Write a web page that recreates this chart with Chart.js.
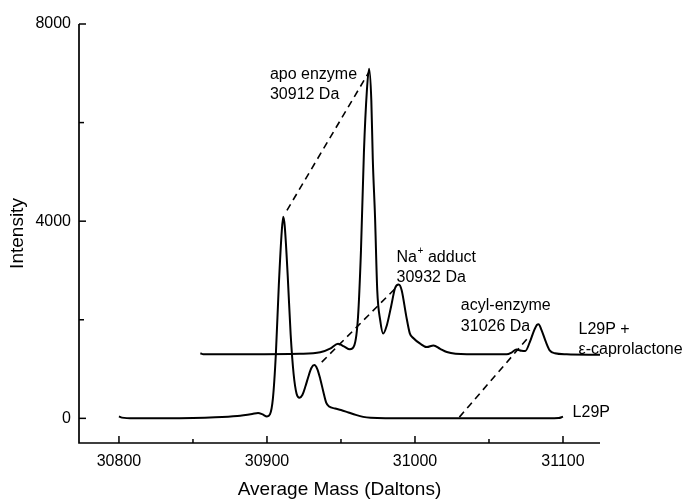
<!DOCTYPE html>
<html>
<head>
<meta charset="utf-8">
<script src="https://cdn.jsdelivr.net/npm/chart.js@4"></script>
<style>
  html, body { margin: 0; padding: 0; background: #fff; }
</style>
</head>
<body>
<canvas id="massCanvas" width="693" height="502"></canvas>
<script>
// L29P (lower trace)
const lowerMass = [30800, 30802, 30810, 30830, 30850, 30865, 30880, 30890, 30894, 30897, 30900, 30902, 30904, 30906, 30908, 30910, 30911, 30912, 30914, 30916, 30918, 30920, 30922, 30924, 30926, 30928, 30930, 30932, 30934, 30936, 30938, 30940, 30942, 30946, 30950, 30955, 30960, 30965, 30970, 30980, 31000, 31050, 31090, 31097, 31100];
const lowerIntensity = [40, 15, 0, 0, 5, 20, 50, 90, 110, 80, 40, 80, 400, 1300, 2700, 3800, 4090, 3900, 2900, 1700, 900, 500, 420, 480, 650, 850, 1020, 1080, 1000, 800, 550, 320, 240, 200, 170, 120, 70, 30, 10, 0, 0, 0, 0, 5, 35];

// L29P + e-caprolactone (upper trace, stacked with an offset like the figure)
const upperMass = [30855, 30857, 30888, 30922, 30936, 30943, 30948, 30952, 30956, 30959, 30961.5, 30963.5, 30965.5, 30967.5, 30969, 30970.5, 30971.5, 30973, 30974.5, 30976.5, 30978.5, 30981, 30984, 30986.5, 30989, 30991, 30994, 30996.5, 30999, 31003.5, 31008, 31012.5, 31017, 31021.5, 31035, 31062, 31065.5, 31068.5, 31072, 31074.5, 31077.5, 31080.5, 31082.5, 31083.5, 31085.5, 31088.5, 31091, 31094.5, 31102.5, 31125];
const upperIntensity = [1320, 1300, 1300, 1310, 1340, 1420, 1515, 1460, 1400, 1480, 2050, 3400, 5400, 6650, 7090, 6450, 5250, 4090, 2600, 1990, 1720, 1890, 2290, 2640, 2715, 2600, 2090, 1725, 1625, 1515, 1445, 1480, 1410, 1345, 1300, 1300, 1340, 1395, 1370, 1365, 1540, 1785, 1900, 1910, 1790, 1545, 1380, 1320, 1300, 1290];

// dashed guides between matching peaks
const apoGuideMass = [30913.5, 30969];
const apoGuideIntensity = [4220, 7030];
const naGuideMass = [30937, 30987.5];
const naGuideIntensity = [1140, 2660];
const acylGuideMass = [31030, 31076.5];
const acylGuideIntensity = [25, 1640];

const xTickValues = [30800, 30850, 30900, 30950, 31000, 31050, 31100];
const xLabelled = [30800, 30900, 31000, 31100];
const yTickValues = [0, 2000, 4000, 6000, 8000];
const yLabelled = [0, 4000, 8000];

const font = "'Liberation Sans', Arial, sans-serif";

function toPoints(xs, ys) {
    return xs.map((x, i) => ({ x: x, y: ys[i] }));
}

function traceSet(xs, ys, dash) {
    return {
        data: toPoints(xs, ys),
        borderColor: "#000",
        borderWidth: dash ? 1.6 : 2,
        borderDash: dash ? [7, 5] : [],
        pointRadius: 0,
        fill: false,
        cubicInterpolationMode: "monotone",
    };
}

// axis lines, inward ticks and text labels
const decorPlugin = {
    id: "decor",
    afterDraw(chart) {
        const ctx = chart.ctx;
        const xs = chart.scales.x;
        const ys = chart.scales.y;
        const area = chart.chartArea;
        ctx.save();
        ctx.strokeStyle = "#000";
        ctx.lineWidth = 1.7;
        ctx.beginPath();
        ctx.moveTo(area.left, area.top);
        ctx.lineTo(area.left, area.bottom);
        ctx.lineTo(area.right, area.bottom);
        ctx.stroke();

        ctx.lineWidth = 1.5;
        xTickValues.forEach(v => {
            const px = xs.getPixelForValue(v);
            const len = xLabelled.includes(v) ? 7 : 4;
            ctx.beginPath();
            ctx.moveTo(px, area.bottom);
            ctx.lineTo(px, area.bottom - len);
            ctx.stroke();
        });
        yTickValues.forEach(v => {
            const py = ys.getPixelForValue(v);
            const len = yLabelled.includes(v) ? 7 : 5;
            ctx.beginPath();
            ctx.moveTo(area.left, py);
            ctx.lineTo(area.left + len, py);
            ctx.stroke();
        });

        ctx.fillStyle = "#000";
        ctx.textBaseline = "middle";
        ctx.textAlign = "left";
        ctx.font = "16px " + font;
        const text = (s, m, i, dy) => {
            ctx.fillText(s, xs.getPixelForValue(m), ys.getPixelForValue(i) + (dy || 0));
        };
        text("apo enzyme", 30902, 6980);
        text("30912 Da", 30902, 6980, 20);

        // Na+ with raised plus sign
        const nx = xs.getPixelForValue(30987.5);
        const ny = ys.getPixelForValue(3265);
        ctx.fillText("Na", nx, ny);
        const w = ctx.measureText("Na").width;
        ctx.font = "10px " + font;
        ctx.fillText("+", nx + w + 0.5, ny - 6);
        ctx.font = "16px " + font;
        ctx.fillText("adduct", nx + w + 11, ny);
        text("30932 Da", 30987.5, 3265, 20);

        text("acyl-enzyme", 31031, 2290);
        text("31026 Da", 31031, 2290, 21);

        text("L29P +", 31110.5, 1800);
        text("\u03b5-caprolactone", 31110.5, 1800, 20);

        text("L29P", 31106.5, 120);
        ctx.restore();
    },
};

new Chart(document.getElementById("massCanvas"), {
    type: "line",
    data: {
        datasets: [
            traceSet(lowerMass, lowerIntensity, false),
            traceSet(upperMass, upperIntensity, false),
            traceSet(apoGuideMass, apoGuideIntensity, true),
            traceSet(naGuideMass, naGuideIntensity, true),
            traceSet(acylGuideMass, acylGuideIntensity, true),
        ],
    },
    options: {
        responsive: false,
        animation: false,
        layout: { padding: { top: 24, right: 93, left: 0, bottom: 0 } },
        plugins: { legend: { display: false }, tooltip: { enabled: false } },
        scales: {
            x: {
                type: "linear",
                min: 30773,
                max: 31125,
                grid: { display: false, drawTicks: false },
                border: { display: false },
                afterBuildTicks: s => { s.ticks = xTickValues.map(v => ({ value: v })); },
                afterFit: s => { s.height = 59; },
                ticks: {
                    padding: 9,
                    color: "#000",
                    font: { family: font, size: 16 },
                    maxRotation: 0,
                    autoSkip: false,
                    callback: v => xLabelled.includes(v) ? String(v) : "",
                },
                title: {
                    display: true,
                    text: "Average Mass (Daltons)",
                    color: "#000",
                    font: { family: font, size: 19 },
                    padding: { top: 0, bottom: 1 },
                },
            },
            y: {
                type: "linear",
                min: -500,
                max: 8000,
                grid: { display: false, drawTicks: false },
                border: { display: false },
                afterBuildTicks: s => { s.ticks = yTickValues.map(v => ({ value: v })); },
                afterFit: s => { s.width = 79; },
                ticks: {
                    padding: 8,
                    color: "#000",
                    font: { family: font, size: 16 },
                    autoSkip: false,
                    callback: v => yLabelled.includes(v) ? String(v) : "",
                },
                title: {
                    display: true,
                    text: "Intensity",
                    color: "#000",
                    font: { family: font, size: 19 },
                    padding: { top: 6, bottom: 0 },
                },
            },
        },
    },
    plugins: [decorPlugin],
});
</script>
</body>
</html>
